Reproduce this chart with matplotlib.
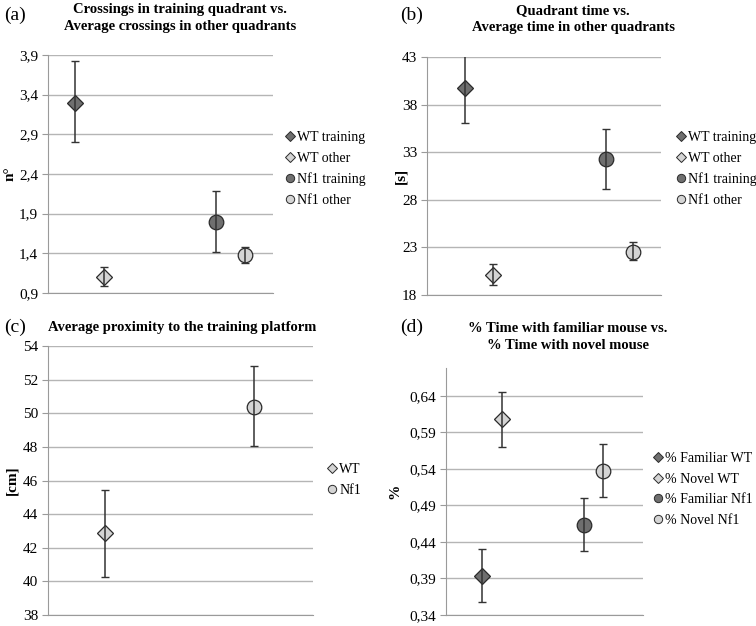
import matplotlib
matplotlib.use("Agg")
import matplotlib.pyplot as plt
from matplotlib.lines import Line2D

plt.rcParams['font.family'] = ['Liberation Serif', 'DejaVu Serif']

# ---------------- data ----------------
# (a) crossings
a_labels = ["WT training", "WT other", "Nf1 training", "Nf1 other"]
a_vals = [3.30, 1.10, 1.80, 1.38]
a_lo = [2.80, 0.99, 1.42, 1.28]
a_hi = [3.83, 1.23, 2.19, 1.48]
a_ticks = [0.9, 1.4, 1.9, 2.4, 2.9, 3.4, 3.9]

# (b) quadrant time
b_labels = ["WT training", "WT other", "Nf1 training", "Nf1 other"]
b_vals = [39.7, 20.1, 32.3, 22.5]
b_lo = [36.1, 19.0, 29.1, 21.7]
b_hi = [43.4, 21.3, 35.4, 23.6]
b_ticks = [18, 23, 28, 33, 38, 43]

# (c) proximity
c_labels = ["WT", "Nf1"]
c_vals = [42.85, 50.4]
c_lo = [40.25, 48.05]
c_hi = [45.45, 52.8]
c_ticks = [38, 40, 42, 44, 46, 48, 50, 52, 54]

# (d) social
d_labels = ["% Familiar WT", "% Novel WT", "% Familiar Nf1", "% Novel Nf1"]
d_vals = [0.393, 0.608, 0.463, 0.537]
d_lo = [0.358, 0.570, 0.428, 0.501]
d_hi = [0.431, 0.645, 0.500, 0.574]
d_ticks = [0.34, 0.39, 0.44, 0.49, 0.54, 0.59, 0.64]

# ---------------- layout / style ----------------
W, H = 756, 626
fig = plt.figure(figsize=(W / 100, H / 100), dpi=100)

DARK = "#6f6f6f"
LIGHT = "#d4d4d4"
EDGE = "#2a2a2a"
styles4 = [("D", DARK, 8), ("D", LIGHT, 8), ("o", DARK, 10.5), ("o", LIGHT, 10.5)]
styles2 = [("D", LIGHT, 8), ("o", LIGHT, 10.5)]


def make_ax(x0, x1, y0, y1):
    return fig.add_axes([x0 / W, 1 - y1 / H, (x1 - x0) / W, (y1 - y0) / H])


def panel(ax, xs, vals, lo, hi, labels, styles, ticks, ylim, fmt, ylabel,
          leg_xy, ylab_x):
    ax.set_xlim(0, 1)
    ax.set_ylim(*ylim)
    for s in ["top", "right"]:
        ax.spines[s].set_visible(False)
    ax.spines["left"].set_color("#9a9a9a")
    ax.spines["bottom"].set_color("#9a9a9a")
    ax.set_xticks([])
    ax.set_yticks(ticks)
    ax.set_yticklabels([fmt(t) for t in ticks], fontsize=11)
    ax.tick_params(axis="y", length=4, color="#9a9a9a", pad=3)
    ax.yaxis.grid(True, color="#b5b5b5", linewidth=1.0)
    ax.set_axisbelow(True)
    handles = []
    for x, v, l, h, lab, (m, c, ms) in zip(xs, vals, lo, hi, labels, styles):
        ax.plot([x], [v], marker=m, color=c, markeredgecolor=EDGE,
                markeredgewidth=0.9, markersize=ms, linestyle="none",
                zorder=3)
        ax.errorbar([x], [v], yerr=[[v - l], [h - v]], fmt="none",
                    ecolor="#333333", elinewidth=1.1, capsize=2.8,
                    capthick=1.0, zorder=4)
        handles.append(Line2D([], [], marker=m, color=c, markeredgecolor=EDGE,
                              markeredgewidth=0.7,
                              markersize=6 if m == "o" else 5,
                              linestyle="none", label=lab))
    ax.legend(handles=handles, loc="upper left",
              bbox_to_anchor=(leg_xy[0] / W, 1 - leg_xy[1] / H),
              bbox_transform=fig.transFigure, frameon=False,
              fontsize=10, handlelength=0.6, handletextpad=0.2,
              labelspacing=0.55, borderpad=0, borderaxespad=0)
    pos = ax.get_position()
    fig.text(ylab_x / W, pos.y0 + pos.height / 2, ylabel, rotation=90,
             ha="center", va="center", fontsize=11, fontweight="bold")


fmt_comma1 = lambda t: f"{t:.1f}".replace(".", ",")
fmt_comma2 = lambda t: f"{t:.2f}".replace(".", ",")
fmt_int = lambda t: f"{t:d}"

TKW = dict(ha="center", va="center", fontsize=10.5, fontweight="bold",
           linespacing=1.45)

# (a)
ax_a = make_ax(48, 273, 55, 293)
panel(ax_a, [0.12, 0.249, 0.747, 0.876], a_vals, a_lo, a_hi, a_labels,
      styles4, a_ticks, (0.9, 3.9), fmt_comma1, "n°", (286, 131), 10)
fig.text(180 / W, 1 - 18 / H,
         "Crossings in training quadrant vs.\nAverage crossings in other quadrants",
         **TKW)
fig.text(4 / W, 1 - 15 / H, "(a)", ha="left", va="center", fontsize=14)

# (b)
ax_b = make_ax(427, 661, 57, 295)
panel(ax_b, [0.162, 0.282, 0.765, 0.880], b_vals, b_lo, b_hi, b_labels,
      styles4, b_ticks, (18, 43), fmt_int, "[s]", (677, 131), 401)
fig.text(573 / W, 1 - 19 / H,
         "Quadrant time vs.\nAverage time in other quadrants", **TKW)
fig.text(400 / W, 1 - 15 / H, "(b)", ha="left", va="center", fontsize=14)

# (c)
ax_c = make_ax(48, 313, 346, 615)
panel(ax_c, [0.215, 0.777], c_vals, c_lo, c_hi, c_labels,
      styles2, c_ticks, (38, 54), fmt_int, "[cm]", (328, 463), 12)
fig.text(182 / W, 1 - 327 / H, "Average proximity to the training platform",
         ha="center", va="center", fontsize=10.5, fontweight="bold")
fig.text(4 / W, 1 - 327 / H, "(c)", ha="left", va="center", fontsize=14)

# (d)
ax_d = make_ax(446, 643, 368, 615)
panel(ax_d, [0.183, 0.284, 0.701, 0.797], d_vals, d_lo, d_hi, d_labels,
      styles4, d_ticks, (0.34, 0.678), fmt_comma2, "%", (654, 452), 395)
fig.text(568 / W, 1 - 337 / H,
         "% Time with familiar mouse vs.\n% Time with novel mouse", **TKW)
fig.text(400 / W, 1 - 327 / H, "(d)", ha="left", va="center", fontsize=14)

fig.savefig("out.png", dpi=100)
